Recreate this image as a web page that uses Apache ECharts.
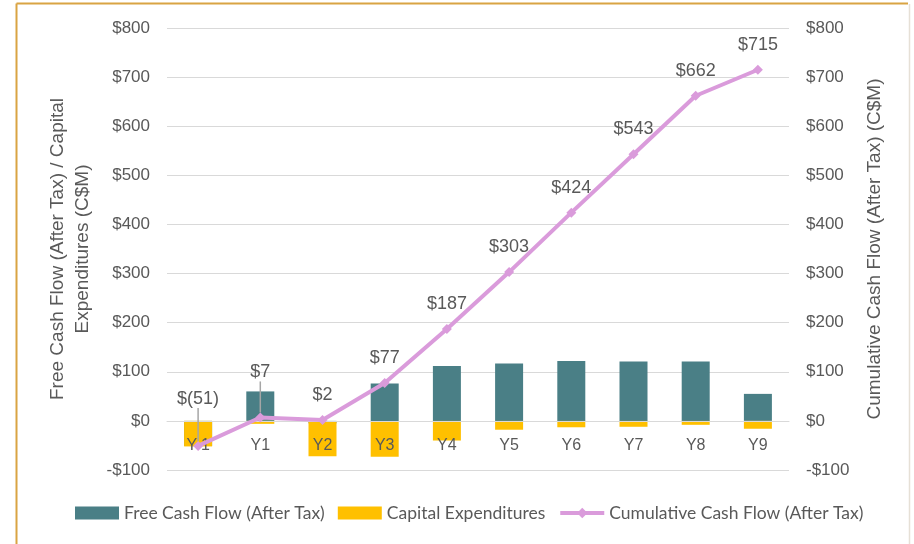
<!DOCTYPE html>
<html><head><meta charset="utf-8">
<script src="https://cdn.jsdelivr.net/npm/echarts@6/dist/echarts.min.js"></script>
<style>html,body{margin:0;padding:0;background:#fff}#c{width:914px;height:544px}</style>
</head><body><div id="c"></div>
<script>
const categories = ['Y-1','Y1','Y2','Y3','Y4','Y5','Y6','Y7','Y8','Y9'];
const freeCashFlow = [-51, 60, -5, 76, 112, 117, 122, 121, 121, 55];
const capitalExpenditures = [-52, -6, -72, -73, -40, -18, -13, -12, -8, -16];
const cumulativeCashFlow = [-51, 7, 2, 77, 187, 303, 424, 543, 662, 715];
const axisTicks = [-100, 0, 100, 200, 300, 400, 500, 600, 700, 800];

const gray = '#595959';
const fmtAxis = v => v < 0 ? '-$' + Math.abs(v) : '$' + v;
const fmtLabel = v => v < 0 ? '$(' + Math.abs(v) + ')' : '$' + v;
const labelLift = {0: -22, 1: -20};

const lineData = cumulativeCashFlow.map((v, i) => ({
  value: v,
  labelLine: {show: labelLift[i] !== undefined}
}));

const chart = echarts.init(document.getElementById('c'), null, {renderer: 'canvas'});
chart.setOption({
  backgroundColor: '#fff',
  animation: false,
  textStyle: {fontFamily: 'Liberation Sans, Arial, sans-serif'},
  graphic: [
    {type: 'line', shape: {x1: 16.5, y1: 3.5, x2: 908, y2: 3.5}, style: {stroke: '#D9A443', lineWidth: 2}, silent: true},
    {type: 'line', shape: {x1: 16.5, y1: 3.5, x2: 16.5, y2: 544}, style: {stroke: '#D9A443', lineWidth: 2}, silent: true},
    {type: 'line', shape: {x1: 909.5, y1: 4, x2: 909.5, y2: 544}, style: {stroke: '#E6E0D6', lineWidth: 1.5}, silent: true}
  ],
  grid: {left: 167, right: 125, top: 28, bottom: 74, containLabel: false},
  legend: {
    bottom: 17, left: 70,
    itemWidth: 44, itemHeight: 13, itemGap: 13,
    textStyle: {color: gray, fontSize: 17.5, fontFamily: 'Lato, sans-serif'},
    data: [
      {name: 'Free Cash Flow (After Tax)', icon: 'rect'},
      {name: 'Capital Expenditures', icon: 'rect'},
      {name: 'Cumulative Cash Flow (After Tax)', lineStyle: {width: 4, color: '#DA9BDB'}}
    ]
  },
  xAxis: {
    type: 'category', data: categories, z: 2,
    offset: -49,
    axisLine: {show: true, onZero: false, lineStyle: {color: '#D9D9D9', width: 1}},
    axisTick: {show: false},
    axisLabel: {color: gray, fontSize: 16, margin: 17}
  },
  yAxis: [
    {
      type: 'value', min: -100, max: 800, interval: 100,
      name: 'Free Cash Flow (After Tax) / Capital\nExpenditures (C$M)',
      nameLocation: 'middle', nameGap: 67, nameRotate: 90,
      nameTextStyle: {color: gray, fontSize: 19, lineHeight: 25},
      axisLabel: {color: gray, fontSize: 17, margin: 17, formatter: fmtAxis},
      axisLine: {show: false}, axisTick: {show: false},
      splitLine: {lineStyle: {color: '#D9D9D9', width: 1}}
    },
    {
      type: 'value', min: -100, max: 800, interval: 100, position: 'right',
      name: 'Cumulative Cash Flow (After Tax) (C$M)',
      nameLocation: 'middle', nameGap: 76, nameRotate: 90,
      nameTextStyle: {color: gray, fontSize: 19},
      axisLabel: {color: gray, fontSize: 17, margin: 17, formatter: fmtAxis},
      axisLine: {show: false}, axisTick: {show: false},
      splitLine: {show: false}
    }
  ],
  series: [
    {
      name: 'Free Cash Flow (After Tax)', type: 'bar', data: freeCashFlow,
      barWidth: 28, barGap: '-100%', z: 1,
      itemStyle: {color: '#4A7F86'}
    },
    {
      name: 'Capital Expenditures', type: 'bar', data: capitalExpenditures,
      barWidth: 28, z: 1,
      itemStyle: {color: '#FFC000'}
    },
    {
      name: 'Cumulative Cash Flow (After Tax)', type: 'line', yAxisIndex: 1,
      data: lineData, z: 3,
      symbol: 'diamond', symbolSize: 10,
      lineStyle: {color: '#DA9BDB', width: 4},
      itemStyle: {color: '#DA9BDB'},
      label: {show: true, position: 'top', distance: 11, color: gray, fontSize: 18, formatter: p => fmtLabel(p.value)},
      labelLine: {show: false, lineStyle: {color: '#A6A6A6', width: 1.5}},
      labelLayout: p => labelLift[p.dataIndex] !== undefined ? {dy: labelLift[p.dataIndex]} : {}
    }
  ]
});
</script></body></html>
